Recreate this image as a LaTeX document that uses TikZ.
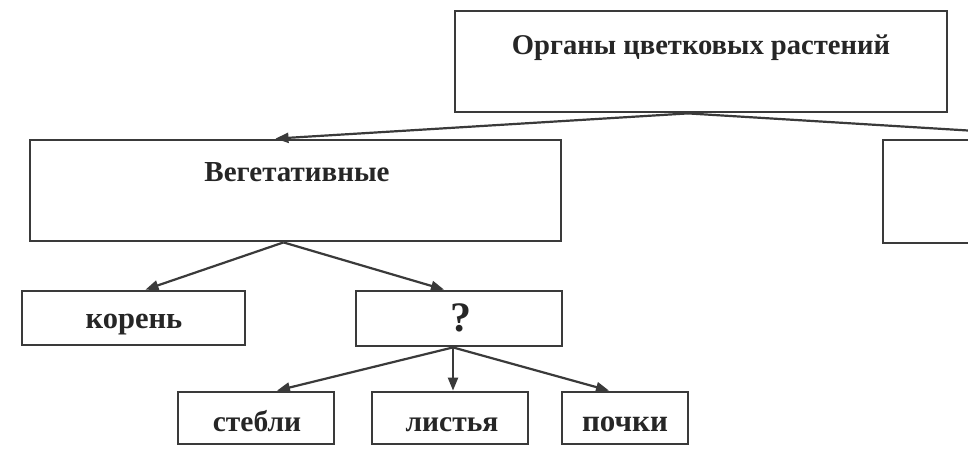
\documentclass[tikz,border=0pt]{standalone}
\usepackage{fontspec}
\setmainfont{Liberation Serif}
\usetikzlibrary{arrows.meta}
\definecolor{boxline}{HTML}{3A3A3A}
\begin{document}
\begin{tikzpicture}[x=1pt,y=-1pt,
  box/.style={draw=boxline,line width=2.8pt,inner sep=0pt,fill=white},
  lbl/.style={inner sep=0pt,anchor=base,text=black!85,font=\fontsize{29.5}{32}\selectfont\bfseries},
  arr/.style={draw=boxline,line width=2.2pt,-{Triangle[length=13pt,width=10pt]}}]
\useasboundingbox (0,0) rectangle (968,459);
\clip (0,0) rectangle (968,459);
\fill[white] (0,0) rectangle (968,459);
% boxes
\node[box,minimum width=492pt,minimum height=101pt] (top) at (701,61.5) {};
\node[box,minimum width=531pt,minimum height=101pt] (veg) at (295.5,190.5) {};
\node[box,minimum width=440pt,minimum height=103pt] (gen) at (1103,191.5) {};
\node[box,minimum width=223pt,minimum height=54pt] (root) at (133.5,318) {};
\node[box,minimum width=206pt,minimum height=55pt] (q) at (459,318.5) {};
\node[box,minimum width=156pt,minimum height=52pt] (stem) at (256,418) {};
\node[box,minimum width=156pt,minimum height=52pt] (leaf) at (450,418) {};
\node[box,minimum width=126pt,minimum height=52pt] (bud) at (625,418) {};
% texts
\node[lbl,font=\fontsize{28.6}{32}\selectfont\bfseries] (tTop) at (701,54) {Органы цветковых растений};
\node[lbl,font=\fontsize{29}{32}\selectfont\bfseries] (tVeg) at (297,181) {Вегетативные};
\node[lbl,font=\fontsize{30.5}{32}\selectfont\bfseries] (tRoot) at (134,328) {корень};
\node[lbl,font=\fontsize{42}{44}\selectfont\bfseries] (tQ) at (461,331) {?};
\node[lbl] (tStem) at (257,431) {стебли};
\node[lbl] (tLeaf) at (452,431) {листья};
\node[lbl,font=\fontsize{31}{32}\selectfont\bfseries] (tBud) at (625,431) {почки};
% connectors
\draw[arr] ([xshift=-13pt]top.south) -- ([xshift=-20pt]veg.north);
\draw[arr] ([xshift=-13pt]top.south) -- ([xshift=-2pt]gen.north);
\draw[arr] ([xshift=-12pt]veg.south) -- ([xshift=12pt]root.north);
\draw[arr] ([xshift=-12pt]veg.south) -- ([xshift=-15pt]q.north);
\draw[arr] ([xshift=-6pt]q.south) -- ([xshift=21pt]stem.north);
\draw[arr] ([xshift=-6pt]q.south) -- ([xshift=3pt]leaf.north);
\draw[arr] ([xshift=-6pt]q.south) -- ([xshift=-16pt]bud.north);
\end{tikzpicture}
\end{document}
